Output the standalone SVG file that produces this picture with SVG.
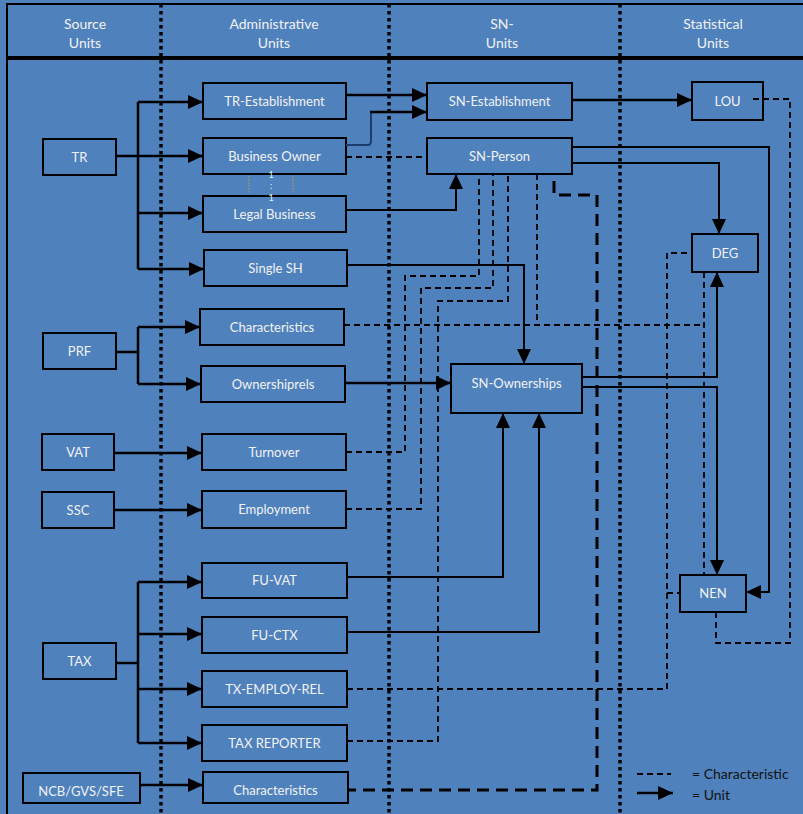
<svg xmlns="http://www.w3.org/2000/svg" width="803" height="814" viewBox="0 0 803 814">
  <defs>
    <marker id="arrow" markerUnits="userSpaceOnUse" markerWidth="15" markerHeight="14" refX="15" refY="7" orient="auto">
      <path d="M0,0 L15,7 L0,14 z" fill="#000"/>
    </marker>
    <style>
      .bg { fill: #4f81bd; }
      .frame { fill: none; stroke: #000; stroke-width: 2; }
      .sep { fill: none; stroke: #000; stroke-width: 3.5; stroke-dasharray: 3.5 3.5; }
      .box { fill: #4f81bd; stroke: #000; stroke-width: 2; }
      .lbl { font-family: Lato, "Liberation Sans", sans-serif; font-size: 13px; fill: #f2f2f2; text-anchor: middle; }
      .hdr { font-family: Lato, "Liberation Sans", sans-serif; font-size: 14px; fill: #f2f2f2; text-anchor: middle; }
      .unit { fill: none; stroke: #000; stroke-width: 2.5; }
      .unit-thin { fill: none; stroke: #000; stroke-width: 2; }
      .char { fill: none; stroke: #000; stroke-width: 1.8; stroke-dasharray: 6 4; }
      .char-bold { fill: none; stroke: #000; stroke-width: 3; stroke-dasharray: 12 7; }
      .ratio { font-family: Lato, "Liberation Sans", sans-serif; font-size: 9px; fill: #f2f2f2; text-anchor: middle; }
      .legend { font-family: Lato, "Liberation Sans", sans-serif; font-size: 14px; fill: #111; }
    </style>
  </defs>

  <!-- canvas -->
  <rect class="bg" x="0" y="0" width="803" height="814"/>

  <!-- header band and body frame -->
  <g id="header">
    <rect class="frame" x="7" y="4" width="810" height="53"/>
    <rect class="frame" x="7" y="59" width="810" height="780"/>
    <text class="hdr" x="85" y="29">Source</text>
    <text class="hdr" x="85" y="48">Units</text>
    <text class="hdr" x="274" y="29">Administrative</text>
    <text class="hdr" x="274" y="48">Units</text>
    <text class="hdr" x="502" y="29">SN-</text>
    <text class="hdr" x="502" y="48">Units</text>
    <text class="hdr" x="713" y="29">Statistical</text>
    <text class="hdr" x="713" y="48">Units</text>
  </g>

  <!-- column separators -->
  <g id="separators">
    <line class="sep" x1="161" y1="4" x2="161" y2="814"/>
    <line class="sep" x1="389" y1="4" x2="389" y2="814"/>
    <line class="sep" x1="620" y1="4" x2="620" y2="814"/>
  </g>

  <!-- source units -->
  <g id="src-tr"><rect class="box" x="43" y="139" width="73" height="36"/><text class="lbl" x="79.5" y="161.5">TR</text></g>
  <g id="src-prf"><rect class="box" x="43" y="333" width="73" height="36"/><text class="lbl" x="79.5" y="355.5">PRF</text></g>
  <g id="src-vat"><rect class="box" x="42" y="434" width="72" height="36"/><text class="lbl" x="78" y="456.5">VAT</text></g>
  <g id="src-ssc"><rect class="box" x="42" y="492" width="72" height="36"/><text class="lbl" x="78" y="514.5">SSC</text></g>
  <g id="src-tax"><rect class="box" x="43" y="643" width="73" height="36"/><text class="lbl" x="79.5" y="665.5">TAX</text></g>
  <g id="src-ncb"><rect class="box" x="23" y="773" width="117" height="30"/><text class="lbl" x="81" y="795.5">NCB/GVS/SFE</text></g>

  <!-- administrative units -->
  <g id="adm-tr-establishment"><rect class="box" x="203" y="83" width="143" height="36"/><text class="lbl" x="274.5" y="105.5">TR-Establishment</text></g>
  <g id="adm-business-owner"><rect class="box" x="203" y="138" width="143" height="36"/><text class="lbl" x="274.5" y="160.5">Business Owner</text></g>
  <g id="adm-legal-business"><rect class="box" x="203" y="196" width="143" height="36"/><text class="lbl" x="274.5" y="218.5">Legal Business</text></g>
  <g id="adm-single-sh"><rect class="box" x="204" y="250" width="143" height="36"/><text class="lbl" x="275.5" y="272.5">Single SH</text></g>
  <g id="adm-characteristics"><rect class="box" x="200" y="309" width="144" height="36"/><text class="lbl" x="272" y="331.5">Characteristics</text></g>
  <g id="adm-ownershiprels"><rect class="box" x="201" y="366" width="144" height="36"/><text class="lbl" x="273" y="388.5">Ownershiprels</text></g>
  <g id="adm-turnover"><rect class="box" x="202" y="434" width="144" height="36"/><text class="lbl" x="274" y="456.5">Turnover</text></g>
  <g id="adm-employment"><rect class="box" x="202" y="491" width="144" height="37"/><text class="lbl" x="274" y="514">Employment</text></g>
  <g id="adm-fu-vat"><rect class="box" x="202" y="563" width="145" height="35"/><text class="lbl" x="274.5" y="585">FU-VAT</text></g>
  <g id="adm-fu-ctx"><rect class="box" x="202" y="617" width="145" height="36"/><text class="lbl" x="274.5" y="639.5">FU-CTX</text></g>
  <g id="adm-tx-employ-rel"><rect class="box" x="202" y="671" width="145" height="36"/><text class="lbl" x="274.5" y="693.5">TX-EMPLOY-REL</text></g>
  <g id="adm-tax-reporter"><rect class="box" x="202" y="725" width="145" height="36"/><text class="lbl" x="274.5" y="747.5">TAX REPORTER</text></g>
  <g id="adm-characteristics-ncb"><rect class="box" x="203" y="772" width="145" height="31"/><text class="lbl" x="275.5" y="794.5">Characteristics</text></g>

  <!-- 1:1 relation between Business Owner and Legal Business -->
  <g id="ratio-1-1">
    <line x1="249" y1="176" x2="249" y2="193" stroke="#a89b63" stroke-width="1.2" stroke-dasharray="1.5 1.5"/>
    <line x1="293" y1="176" x2="293" y2="193" stroke="#a89b63" stroke-width="1.2" stroke-dasharray="1.5 1.5"/>
    <text class="ratio" x="271" y="178">1</text>
    <text class="ratio" x="271" y="189">:</text>
    <text class="ratio" x="271" y="200.5">1</text>
  </g>

  <!-- SN units -->
  <g id="sn-establishment"><rect class="box" x="427" y="83" width="145" height="37"/><text class="lbl" x="499.5" y="106">SN-Establishment</text></g>
  <g id="sn-person"><rect class="box" x="427" y="138" width="145" height="36"/><text class="lbl" x="499.5" y="160.5">SN-Person</text></g>
  <g id="sn-ownerships"><rect class="box" x="451" y="364" width="131" height="49"/><text class="lbl" x="516.5" y="387.5">SN-Ownerships</text></g>

  <!-- statistical units -->
  <g id="st-lou"><rect class="box" x="692" y="82" width="71" height="38"/><text class="lbl" x="727.5" y="105.5">LOU</text></g>
  <g id="st-deg"><rect class="box" x="692" y="234" width="66" height="38"/><text class="lbl" x="725" y="257.5">DEG</text></g>
  <g id="st-nen"><rect class="box" x="680" y="575" width="66" height="37"/><text class="lbl" x="713" y="598">NEN</text></g>

  <!-- connectors -->
  <g id="connectors">
    <!-- unit flows: source to administrative -->
    <path class="unit" d="M116,156 H138 M138,102 V269"/>
    <path class="unit" d="M138,102 H203" marker-end="url(#arrow)"/>
    <path class="unit" d="M138,156 H203" marker-end="url(#arrow)"/>
    <path class="unit" d="M138,213 H203" marker-end="url(#arrow)"/>
    <path class="unit" d="M138,269 H204" marker-end="url(#arrow)"/>

    <path class="unit" d="M116,352 H138 M138,327 V384"/>
    <path class="unit" d="M138,327 H200" marker-end="url(#arrow)"/>
    <path class="unit" d="M138,384 H201" marker-end="url(#arrow)"/>

    <path class="unit" d="M114,453 H202" marker-end="url(#arrow)"/>
    <path class="unit" d="M114,510 H202" marker-end="url(#arrow)"/>

    <path class="unit" d="M116,663 H138 M138,582 V743"/>
    <path class="unit" d="M138,582 H202" marker-end="url(#arrow)"/>
    <path class="unit" d="M138,634 H202" marker-end="url(#arrow)"/>
    <path class="unit" d="M138,689 H202" marker-end="url(#arrow)"/>
    <path class="unit" d="M138,743 H202" marker-end="url(#arrow)"/>

    <path class="unit" d="M140,785 H203" marker-end="url(#arrow)"/>

    <!-- unit flows: administrative to SN -->
    <path class="unit" d="M346,95 H427" marker-end="url(#arrow)"/>
    <path d="M346,145 H368 Q371,145 371,141 V112" fill="none" stroke="#1f3c6e" stroke-width="2"/>
    <path class="unit" d="M370,112 H427" marker-end="url(#arrow)"/>
    <path class="unit-thin" d="M346,210 H456 V174" marker-end="url(#arrow)"/>
    <path class="unit-thin" d="M347,265 H524 V364" marker-end="url(#arrow)"/>
    <path class="unit" d="M345,383 H451" marker-end="url(#arrow)"/>
    <path class="unit-thin" d="M347,577 H503 V413" marker-end="url(#arrow)"/>
    <path class="unit-thin" d="M347,632 H539 V413" marker-end="url(#arrow)"/>

    <!-- unit flows: SN to statistical -->
    <path class="unit" d="M572,100 H692" marker-end="url(#arrow)"/>
    <path class="unit-thin" d="M572,163 H719 V234" marker-end="url(#arrow)"/>
    <path class="unit-thin" d="M572,147 H769 V592 H746" marker-end="url(#arrow)"/>
    <path class="unit-thin" d="M582,377 H717 V272" marker-end="url(#arrow)"/>
    <path class="unit-thin" d="M582,387 H717 V575" marker-end="url(#arrow)"/>

    <!-- characteristic links -->
    <path class="char" d="M346,157 H427"/>
    <path class="char" d="M346,452 H405 V276 H479 V174"/>
    <path class="char" d="M346,509 H421 V288 H493 V174"/>
    <path class="char" d="M347,741 H438 V301 H508 V174"/>
    <path class="char" d="M344,325 H704"/>
    <path class="char" d="M537,174 V325"/>
    <path class="char" d="M704,272 V575"/>
    <path class="char" d="M347,689 H667 V253 H692"/>
    <path class="char" d="M667,593 H680"/>
    <path class="char" d="M753,99 H790 V643 H716 V612"/>
    <path class="char-bold" d="M554,181 V195 H597 V790 H348"/>
  </g>

  <!-- legend -->
  <g id="legend">
    <path class="char" d="M637,774 H671"/>
    <path class="unit" d="M637,793 H673" marker-end="url(#arrow)"/>
    <text class="legend" x="692" y="779">= Characteristic</text>
    <text class="legend" x="692" y="800">= Unit</text>
  </g>
</svg>
